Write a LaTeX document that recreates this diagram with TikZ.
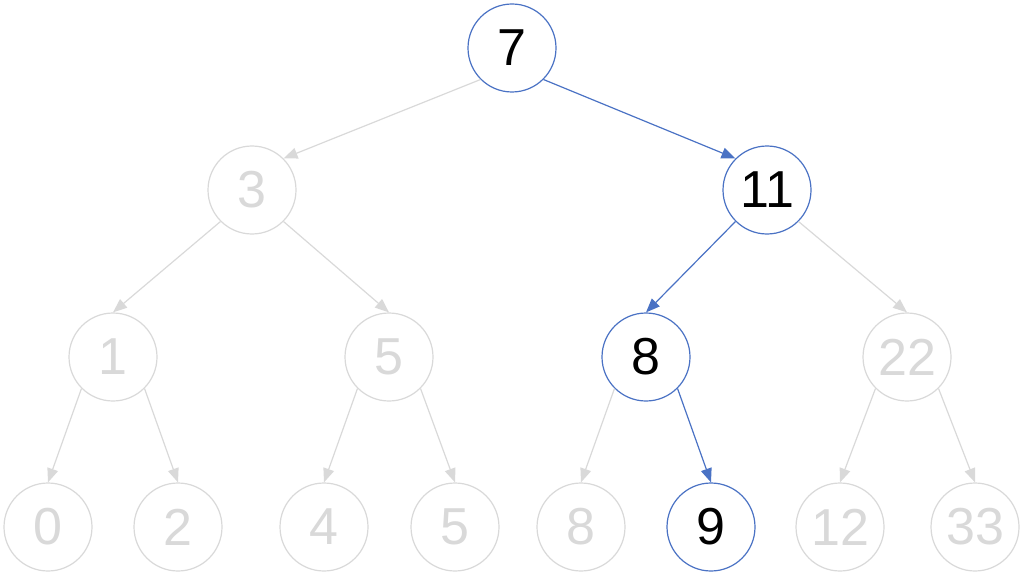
\documentclass[tikz,border=0pt]{standalone}
\usepackage{fontspec}
\setmainfont{Liberation Sans}
\usetikzlibrary{arrows.meta}
\definecolor{faded}{RGB}{217,217,217}
\definecolor{pathblue}{RGB}{74,114,196}
\tikzset{
  tnode/.style={circle, minimum size=88pt, inner sep=0pt, line width=1.2pt, fill=white,
    font=\fontsize{52}{60}\selectfont},
  fadednode/.style={tnode, draw=faded, text=faded},
  activenode/.style={tnode, draw=pathblue, text=black},
  fadededge/.style={draw=faded, line width=1.2pt, -{Triangle[length=14pt,width=11pt]}},
  activeedge/.style={draw=pathblue, line width=1.2pt, -{Triangle[length=14pt,width=11pt]}},
}
\begin{document}
\begin{tikzpicture}[x=1pt,y=-1pt]
\useasboundingbox (0,0) rectangle (1024,580);
\node[activenode] (n7) at (512,48) {7};
\node[fadednode] (n3) at (252,190) {3};
\node[activenode] (n11) at (767,190) {11};
\node[fadednode] (n1) at (113,357) {1};
\node[fadednode] (n5a) at (389,357) {5};
\node[activenode] (n8a) at (646,357) {8};
\node[fadednode] (n22) at (907,357) {22};
\node[fadednode] (n0) at (48,527) {0};
\node[fadednode] (n2) at (178,527) {2};
\node[fadednode] (n4) at (324,527) {4};
\node[fadednode] (n5b) at (455,527) {5};
\node[fadednode] (n8b) at (581,527) {8};
\node[activenode] (n9) at (711,527) {9};
\node[fadednode] (n12) at (840,527) {12};
\node[fadednode] (n33) at (975,527) {33};

\draw[fadededge] (n7.south west) -- (n3.north east);
\draw[activeedge] (n7.south east) -- (n11.north west);
\draw[fadededge] (n3.south west) -- (n1.north);
\draw[fadededge] (n3.south east) -- (n5a.north);
\draw[activeedge] (n11.south west) -- (n8a.north);
\draw[fadededge] (n11.south east) -- (n22.north);
\draw[fadededge] (n1.south west) -- (n0.north);
\draw[fadededge] (n1.south east) -- (n2.north);
\draw[fadededge] (n5a.south west) -- (n4.north);
\draw[fadededge] (n5a.south east) -- (n5b.north);
\draw[fadededge] (n8a.south west) -- (n8b.north);
\draw[activeedge] (n8a.south east) -- (n9.north);
\draw[fadededge] (n22.south west) -- (n12.north);
\draw[fadededge] (n22.south east) -- (n33.north);
\end{tikzpicture}
\end{document}
